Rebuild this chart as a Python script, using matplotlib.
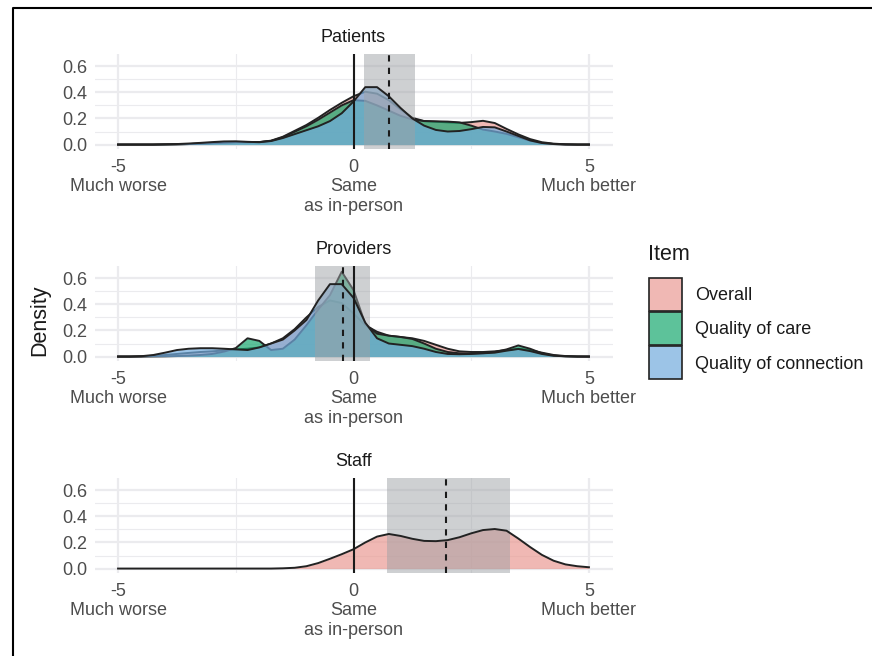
import matplotlib
matplotlib.use("Agg")
import matplotlib.pyplot as plt
import numpy as np
from matplotlib.colors import to_rgba
from matplotlib.patches import Rectangle
from matplotlib.lines import Line2D

plt.rcParams['font.family'] = ['Liberation Sans', 'DejaVu Sans']

# density grid (x = -5 .. 5, step 0.25)
density_x = np.linspace(-5, 5, 41)

items = ['Overall', 'Quality of care', 'Quality of connection']
item_colors = ['#EA9B94', '#18A86F', '#72ACDE']

# Patients
patients_overall = [0, 0, 0, 0, 0.001, 0.002, 0.004, 0.007, 0.011, 0.016, 0.019, 0.018, 0.019, 0.03,
                    0.06, 0.105, 0.15, 0.205, 0.265, 0.32, 0.37, 0.405, 0.39, 0.34, 0.27, 0.205, 0.18,
                    0.175, 0.17, 0.166, 0.172, 0.182, 0.165, 0.12, 0.078, 0.042, 0.018, 0.007, 0.002, 0, 0]
patients_care = [0, 0, 0, 0, 0.001, 0.002, 0.004, 0.007, 0.01, 0.014, 0.018, 0.018, 0.019, 0.028,
                 0.056, 0.098, 0.14, 0.19, 0.245, 0.3, 0.34, 0.335, 0.3, 0.26, 0.22, 0.192, 0.18,
                 0.178, 0.176, 0.17, 0.145, 0.115, 0.1, 0.082, 0.056, 0.03, 0.012, 0.004, 0.001, 0, 0]
patients_connection = [0, 0, 0, 0, 0.002, 0.004, 0.008, 0.013, 0.019, 0.024, 0.025, 0.021, 0.018, 0.027,
                       0.05, 0.08, 0.11, 0.14, 0.18, 0.24, 0.33, 0.44, 0.44, 0.37, 0.28, 0.2, 0.145,
                       0.112, 0.1, 0.104, 0.118, 0.135, 0.132, 0.1, 0.066, 0.032, 0.012, 0.004, 0.001, 0, 0]

# Providers
providers_overall = [0, 0, 0.002, 0.006, 0.012, 0.02, 0.028, 0.035, 0.04, 0.047, 0.055, 0.06, 0.07, 0.1,
                     0.14, 0.21, 0.3, 0.38, 0.43, 0.41, 0.33, 0.24, 0.19, 0.16, 0.15, 0.14, 0.12, 0.09,
                     0.06, 0.04, 0.035, 0.035, 0.04, 0.05, 0.06, 0.05, 0.03, 0.012, 0.004, 0.001, 0]
providers_care = [0, 0, 0, 0.001, 0.002, 0.004, 0.007, 0.012, 0.02, 0.038, 0.065, 0.14, 0.12, 0.05,
                  0.06, 0.13, 0.24, 0.36, 0.47, 0.65, 0.51, 0.25, 0.175, 0.16, 0.15, 0.135, 0.1, 0.06,
                  0.035, 0.025, 0.022, 0.025, 0.035, 0.055, 0.085, 0.06, 0.025, 0.008, 0.002, 0, 0]
providers_connection = [0, 0, 0.003, 0.012, 0.03, 0.05, 0.06, 0.064, 0.064, 0.06, 0.055, 0.05, 0.07, 0.1,
                        0.13, 0.2, 0.28, 0.43, 0.555, 0.555, 0.45, 0.26, 0.14, 0.1, 0.09, 0.08, 0.06, 0.035,
                        0.02, 0.018, 0.02, 0.025, 0.03, 0.045, 0.058, 0.042, 0.02, 0.006, 0.002, 0, 0]

# Staff (overall only)
staff_overall = [0, 0, 0, 0, 0, 0, 0, 0, 0, 0, 0, 0, 0, 0, 0.002, 0.006, 0.018, 0.042, 0.075, 0.11,
                 0.148, 0.2, 0.245, 0.265, 0.25, 0.228, 0.212, 0.21, 0.218, 0.24, 0.27, 0.295, 0.303,
                 0.29, 0.23, 0.165, 0.105, 0.06, 0.032, 0.018, 0.01]

groups = ['Patients', 'Providers', 'Staff']
group_means = [0.76, -0.22, 1.96]
group_ci_low = [0.23, -0.82, 0.72]
group_ci_high = [1.30, 0.34, 3.32]

panel_series = [
    [patients_overall, patients_care, patients_connection],
    [providers_overall, providers_care, providers_connection],
    [staff_overall],
]

tick_values = [-5, 0, 5]
tick_labels = ['-5\nMuch worse', '0\nSame\nas in-person', '5\nMuch better']

W, H = 872, 656
fig = plt.figure(figsize=(W / 100, H / 100), dpi=100)

grid_col = '#EBEBEE'
line_col = '#222222'
fill_alpha = 0.7
panel_tops = [54, 266, 478]

for k, name in enumerate(groups):
    top = panel_tops[k]
    ax = fig.add_axes([94.5 / W, 1 - (top + 95) / H, 518 / W, 95 / H])

    series = panel_series[k]
    for j, vals in enumerate(series):
        z = 2 + j
        ax.fill_between(density_x, 0, vals, color=item_colors[j], alpha=fill_alpha,
                        linewidth=0, zorder=z)
        # last layer's outline sits above the grey band, earlier ones under later fills
        lz = 6 if j == len(series) - 1 else z + 0.5
        ax.plot(density_x, vals, color=line_col, lw=1.4, zorder=lz, solid_joinstyle='round')

    # confidence band and reference lines
    ax.axvspan(group_ci_low[k], group_ci_high[k], color='#9FA2A6', alpha=0.5, lw=0, zorder=5)
    ax.axvline(0, color='#1A1A1A', lw=1.5, zorder=7)
    ax.axvline(group_means[k], color='#1A1A1A', lw=1.5, ls=(0, (3, 3)), zorder=7)

    ax.set_xlim(-5.5, 5.5)
    ax.set_ylim(-0.034, 0.694)
    ax.set_xticks(tick_values)
    ax.set_xticklabels(tick_labels, linespacing=1.2)
    ax.set_xticks([-2.5, 2.5], minor=True)
    ax.set_yticks([0, 0.2, 0.4, 0.6])
    ax.set_yticklabels(['0.0', '0.2', '0.4', '0.6'])
    ax.set_yticks([0.1, 0.3, 0.5], minor=True)
    ax.tick_params(which='both', length=0, labelsize=13, labelcolor='#4D4D4D')
    ax.tick_params(axis='x', pad=7)
    ax.tick_params(axis='y', pad=5)
    ax.grid(which='major', color=grid_col, lw=1.6)
    ax.grid(which='minor', color=grid_col, lw=0.8)
    ax.set_axisbelow(True)
    for s in ax.spines.values():
        s.set_visible(False)
    ax.set_title(name, fontsize=13, color='#1A1A1A', pad=9)

fig.text(40 / W, 1 - 320 / H, 'Density', rotation=90, fontsize=15.5, color='#1A1A1A',
         ha='center', va='center')

# legend
fig.text(648 / W, 1 - 254 / H, 'Item', fontsize=15.5, color='#1A1A1A', ha='left', va='center')
for j, label in enumerate(items):
    y0 = 278 + 34 * j
    fig.patches.append(Rectangle((649 / W, 1 - (y0 + 33) / H), 33 / W, 33 / H,
                                 transform=fig.transFigure,
                                 facecolor=to_rgba(item_colors[j], fill_alpha),
                                 edgecolor=line_col, lw=1.2))
    fig.text(695 / W, 1 - (y0 + 18) / H, label, fontsize=13, color='#1A1A1A',
             ha='left', va='center')

# frame on left and top
fig.add_artist(Line2D([12.5 / W, 12.5 / W, 1], [0, 1 - 8 / H, 1 - 8 / H],
                      transform=fig.transFigure, color='black', lw=1.5))

fig.savefig('out.png', dpi=100)
